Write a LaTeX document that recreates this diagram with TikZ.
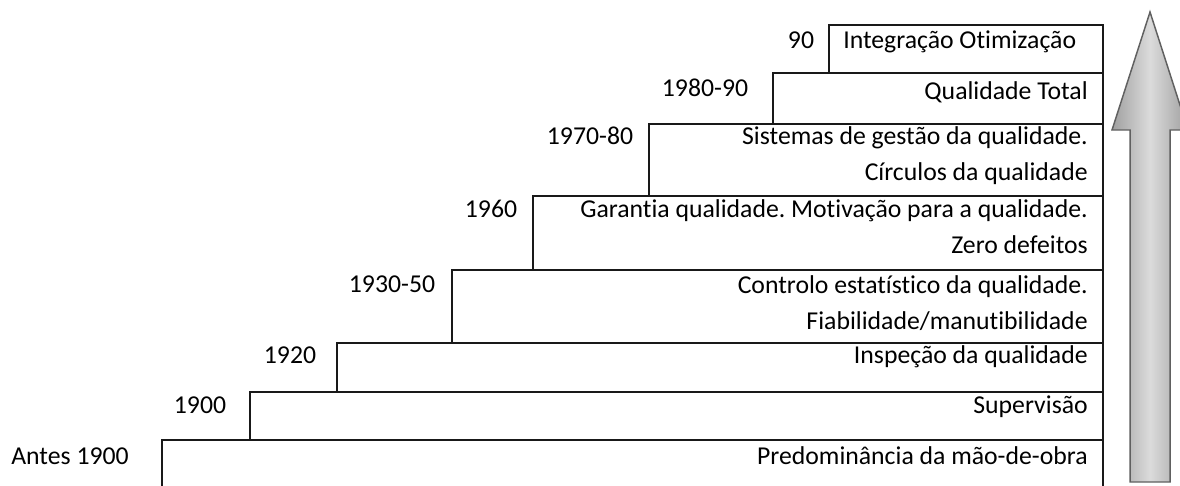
\documentclass[tikz,border=0pt]{standalone}
\usepackage{fontspec}
\setmainfont{Carlito}[Ligatures={NoCommon}]
\usepackage{tikz}
\usetikzlibrary{positioning}
\frenchspacing

\begin{document}
\begin{tikzpicture}[
  x=0.75pt, y=-0.75pt,
  box/.style={draw=black!90, line width=0.9pt},
  year/.style={inner sep=0pt, anchor=mid, text=black,
    font=\fontsize{19.3}{26}\selectfont},
  desc/.style={inner sep=0pt, anchor=mid east, align=right, text=black,
    font=\fontsize{19.3}{26.6}\selectfont},
  seta/.style={draw=gray!75!black, line width=1.1pt, left color=gray!75,
    right color=gray!75, middle color=gray!28}
]
\useasboundingbox (0,0) rectangle (1180,485);

% degraus (de baixo para cima)
\draw[box] (162,490) |- (1103,440) -- (1103,490);
\draw[box] (250,440) |- (1103,392) -- (1103,440);
\draw[box] (337,392) |- (1103,343) -- (1103,392);
\draw[box] (452,343) |- (1103,270) -- (1103,343);
\draw[box] (533,270) |- (1103,196) -- (1103,270);
\draw[box] (649,196) |- (1103,124) -- (1103,196);
\draw[box] (773,124) |- (1103,73) -- (1103,124);
\draw[box] (829,73) |- (1103,25) -- (1103,73);

% anos
\node[year] (y0) at (70,461) {Antes 1900};
\node[year] (y1) at (200,410) {1900};
\node[year] (y2) at (290,360) {1920};
\node[year] (y3) at (392,289) {1930-50};
\node[year] (y4) at (491,214) {1960};
\node[year] (y5) at (590,141) {1970-80};
\node[year] (y6) at (705,93) {1980-90};
\node[year] (y7) at (801,45) {90};

% descricoes (anchor na ultima linha)
\node[desc] (d0) at (1088,461) {Predominância da mão-de-obra};
\node[desc] (d1) at (1088,410) {Supervisão};
\node[desc] (d2) at (1088,360) {Inspeção da qualidade};
\node[desc] (d3) at (1088,326) {Controlo estatístico da qualidade.\\
  Fiabilidade/manutibilidade};
\node[desc] (d4) at (1088,250) {Garantia qualidade. Motivação para a qualidade.\\
  Zero defeitos};
\node[desc] (d5) at (1088,177) {Sistemas de gestão da qualidade.\\
  Círculos da qualidade};
\node[desc] (d6) at (1088,96) {Qualidade Total};
\node[desc, anchor=mid west] (d7) at (843,45) {Integração Otimização};

% seta de evolucao
\draw[seta] (1130,482) -- (1130,130) -- (1112,130) -- (1150,12)
  -- (1188,130) -- (1170,130) -- (1170,482) -- cycle;
\end{tikzpicture}
\end{document}
